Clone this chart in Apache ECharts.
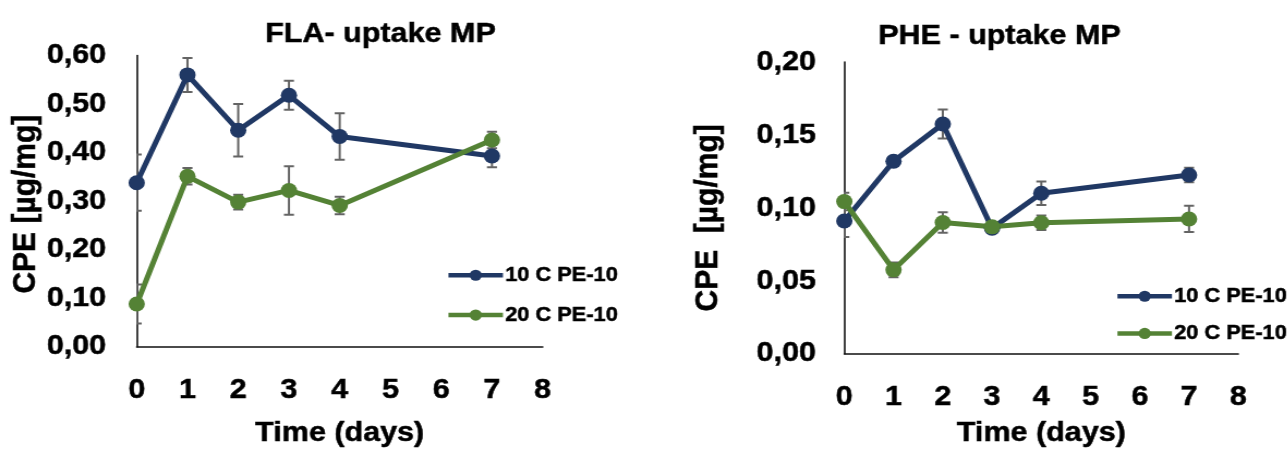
<!DOCTYPE html>
<html>
<head>
<meta charset="utf-8">
<style>
  html, body { margin: 0; padding: 0; background: #fff; overflow: hidden; }
  /* the figure is drawn slightly wide: render narrower and stretch horizontally */
  #chart { width: 1182px; height: 453px; transform: scaleX(1.09); transform-origin: 0 0; }
</style>
<script src="https://cdn.jsdelivr.net/npm/echarts@6/dist/echarts.min.js"></script>
</head>
<body>
<div id="chart"></div>
<script>
// Sampling days
const days = [0, 1, 2, 3, 4, 7];
const xTicks = [0, 1, 2, 3, 4, 5, 6, 7, 8];

// FLA uptake (µg/mg) with standard deviations
const flaTenC = [0.338, 0.560, 0.446, 0.518, 0.433, 0.393];
const flaTenCErr = [0.058, 0.035, 0.054, 0.030, 0.048, 0.023];
const flaTwentyC = [0.088, 0.351, 0.298, 0.322, 0.291, 0.426];
const flaTwentyCErr = [0.040, 0.017, 0.015, 0.050, 0.018, 0.017];

// PHE uptake (µg/mg) with standard deviations
const pheTenC = [0.091, 0.132, 0.1575, 0.086, 0.110, 0.1225];
const pheTenCErr = [0.011, 0.003, 0.010, 0.002, 0.008, 0.005];
const pheTwentyC = [0.1043, 0.0575, 0.090, 0.087, 0.0898, 0.0924];
const pheTwentyCErr = [0.006, 0.005, 0.007, 0.002, 0.005, 0.009];

const seriesNames = ['10 C PE-10', '20 C PE-10'];
const titles = ['FLA- uptake MP', 'PHE - uptake MP'];
const yNames = ['CPE [µg/mg]', 'CPE  [µg/mg]'];
const xName = 'Time (days)';

const SX = 1.09;               // horizontal stretch applied by CSS
const px = v => v / SX;        // page x -> chart x
const BLUE = '#203864';
const GREEN = '#548235';
const FONT = '"Liberation Sans", Arial, sans-serif';

// heavy bold text used throughout the figure
function txt(size, extra) {
  return Object.assign({
    fontFamily: FONT, fontWeight: 'bold', fontSize: size, color: '#000',
    textBorderColor: '#000', textBorderWidth: 0.5
  }, extra || {});
}

function comma(v) { return v.toFixed(2).replace('.', ','); }

function lineSeries(name, idx, values, color) {
  return {
    type: 'line', name: name, xAxisIndex: idx, yAxisIndex: idx, z: 3,
    clip: false,
    data: days.map((d, i) => [d, values[i]]),
    symbol: 'circle', symbolSize: 15,
    lineStyle: { color: color, width: 5 },
    itemStyle: { color: color },
    emphasis: { disabled: true }
  };
}

function errorSeries(name, idx, values, errs) {
  return {
    type: 'custom', name: name, xAxisIndex: idx, yAxisIndex: idx, z: 2,
    clip: true,
    data: days.map((d, i) => [d, values[i] - errs[i], values[i] + errs[i]]),
    encode: { x: 0, y: [1, 2] },
    renderItem: function (params, api) {
      const lo = api.coord([api.value(0), api.value(1)]);
      const hi = api.coord([api.value(0), api.value(2)]);
      const half = 4.6;
      const style = { stroke: '#646464', lineWidth: 2 };
      return {
        type: 'group',
        children: [
          { type: 'line', shape: { x1: lo[0], y1: lo[1], x2: hi[0], y2: hi[1] }, style: style },
          { type: 'line', shape: { x1: lo[0] - half, y1: lo[1], x2: lo[0] + half, y2: lo[1] }, style: style },
          { type: 'line', shape: { x1: hi[0] - half, y1: hi[1], x2: hi[0] + half, y2: hi[1] }, style: style }
        ]
      };
    }
  };
}

function xAxis(idx, gap) {
  return {
    type: 'value', gridIndex: idx, min: xTicks[0], max: xTicks[xTicks.length - 1], interval: 1,
    name: xName, nameLocation: 'middle', nameGap: gap,
    nameTextStyle: txt(28),
    axisLine: { lineStyle: { color: '#111', width: 1.6 } },
    axisTick: { show: false },
    splitLine: { show: false },
    axisLabel: Object.assign({ margin: 30 }, txt(28))
  };
}

function yAxis(idx, max, interval, gap, margin, namePad) {
  return {
    type: 'value', gridIndex: idx, min: 0, max: max, interval: interval,
    name: yNames[idx], nameLocation: 'middle', nameRotate: 90, nameGap: gap,
    nameTextStyle: txt(30, { padding: namePad }),
    axisLine: { show: true, lineStyle: { color: '#111', width: 1.6 } },
    axisTick: { show: false },
    splitLine: { show: false },
    axisLabel: Object.assign({ margin: margin, formatter: comma }, txt(28))
  };
}

const legendBase = {
  orient: 'vertical', itemWidth: 50, itemHeight: 14, padding: 0,
  data: seriesNames,
  lineStyle: { width: 4.5 },
  textStyle: txt(20, { padding: [0, 0, 0, -3] })
};

const chart = echarts.init(document.getElementById('chart'), null, { renderer: 'canvas' });
chart.setOption({
  backgroundColor: '#fff',
  animation: false,
  title: [
    { text: titles[0], left: px(375), top: 15, textAlign: 'center', textStyle: txt(28) },
    { text: titles[1], left: px(994), top: 17, textAlign: 'center', textStyle: txt(28) }
  ],
  legend: [
    Object.assign({}, legendBase, { left: px(446), top: 265, itemGap: 19.3 }),
    Object.assign({}, legendBase, { left: px(1115), top: 286, itemGap: 16.7 })
  ],
  grid: [
    { left: px(136.7), top: 55.5, width: px(406), height: 300.2 },
    { left: px(844.3), top: 62, width: px(394), height: 298.7 }
  ],
  xAxis: [xAxis(0, 73), xAxis(1, 66)],
  yAxis: [yAxis(0, 0.6, 0.1, 84, 28, [0, 6, 0, 0]), yAxis(1, 0.2, 0.05, 110, 26, [0, 20, 0, 0])],
  series: [
    errorSeries('err-fla-10', 0, flaTenC, flaTenCErr),
    errorSeries('err-fla-20', 0, flaTwentyC, flaTwentyCErr),
    lineSeries(seriesNames[0], 0, flaTenC, BLUE),
    lineSeries(seriesNames[1], 0, flaTwentyC, GREEN),
    errorSeries('err-phe-10', 1, pheTenC, pheTenCErr),
    errorSeries('err-phe-20', 1, pheTwentyC, pheTwentyCErr),
    lineSeries(seriesNames[0], 1, pheTenC, BLUE),
    lineSeries(seriesNames[1], 1, pheTwentyC, GREEN)
  ]
});
</script>
</body>
</html>
